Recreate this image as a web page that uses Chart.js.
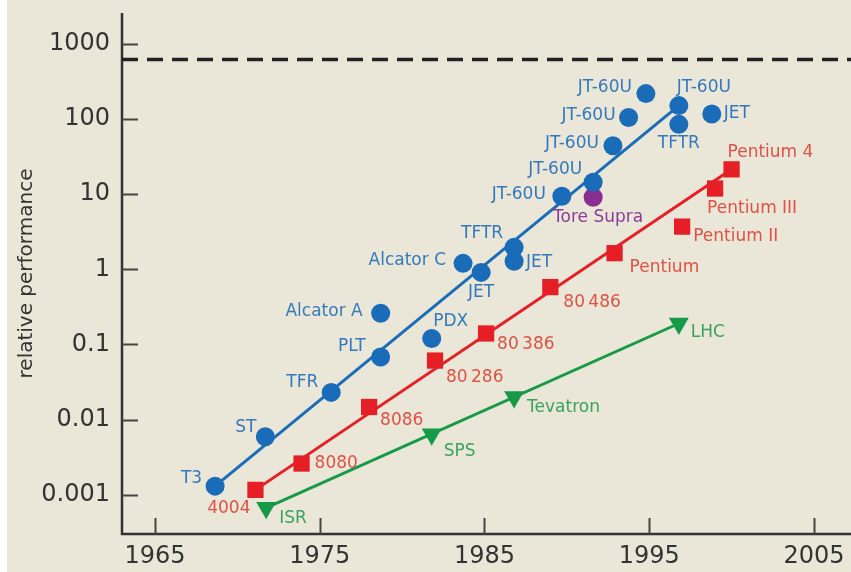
<!DOCTYPE html>
<html>
<head>
<meta charset="utf-8">
<script src="https://cdn.jsdelivr.net/npm/chart.js@4/dist/chart.umd.min.js"></script>
<style>
  html, body { margin: 0; padding: 0; background: #fff; }
  #wrap { width: 851px; height: 572px; }
</style>
</head>
<body>
<div id="wrap"><canvas id="perfChart" width="851" height="572"></canvas></div>
<script>
// tokamaks (fusion)
const tokamakNames = ['T3', 'ST', 'TFR', 'PLT', 'Alcator A', 'PDX', 'Alcator C', 'JET', 'TFTR', 'JET',
  'JT-60U', 'JT-60U', 'JT-60U', 'JT-60U', 'JT-60U', 'JT-60U', 'TFTR', 'JET'];
const tokamakYears = [1968.65, 1971.7, 1975.7, 1978.7, 1978.7, 1981.8, 1983.7, 1984.8, 1986.8, 1986.8,
  1989.7, 1991.6, 1992.8, 1993.75, 1994.8, 1996.8, 1996.8, 1998.8];
const tokamakValues = [0.0013, 0.0059, 0.023, 0.068, 0.26, 0.12, 1.2, 0.91, 1.96, 1.28,
  9.4, 14.4, 44, 105, 218, 151, 85, 117];
const tokamakTrend = [0, 15]; // fitted line runs between these points

const toreNames = ['Tore Supra'];
const toreYears = [1991.6];
const toreValues = [9.1];

// microprocessors
const chipNames = ['4004', '8080', '8086', '80\u2009286', '80\u2009386', '80\u2009486', 'Pentium', 'Pentium II', 'Pentium III', 'Pentium 4'];
const chipYears = [1971.1, 1973.9, 1978.0, 1982.0, 1985.1, 1989.0, 1992.9, 1997.0, 1999.0, 2000.0];
const chipValues = [0.00116, 0.0026, 0.0147, 0.061, 0.14, 0.58, 1.64, 3.7, 11.9, 21.4];
const chipTrend = [0, 9];

// accelerators
const accelNames = ['ISR', 'SPS', 'Tevatron', 'LHC'];
const accelYears = [1971.75, 1981.8, 1986.8, 1996.8];
const accelValues = [0.00067, 0.0064, 0.020, 0.19];
const accelTrend = [0, 3];

const limitValue = 620;
const yTicks = [0.001, 0.01, 0.1, 1, 10, 100, 1000];
const xTicks = [1965, 1975, 1985, 1995, 2005];
const xMin = 1963, xMax = 2007.25;
const yMin = Math.pow(10, -3.504), yMax = Math.pow(10, 3.4115);

// label placement: [dx, dy, align]
const tokamakLabelPos = [[-13, -8, 'right'], [-9, -9, 'right'], [-13, -10, 'right'], [-15, -10, 'right'],
  [-18, -2, 'right'], [19, -17, 'center'], [-17, -3, 'right'], [0, 20, 'center'], [-11, -14, 'right'],
  [12, 1, 'left'], [-16, -2, 'right'], [-11, -13, 'right'], [-14, -2, 'right'], [-13, -2, 'right'],
  [-14, -6, 'right'], [-2, -18, 'left'], [0, 19, 'center'], [12, 0, 'left']];
const toreLabelPos = [[5, 20, 'center']];
const chipLabelPos = [[-5, 19, 'right'], [13, 0, 'left'], [11, 14, 'left'], [11, 17, 'left'], [11, 11, 'left'],
  [13, 15, 'left'], [15, 14, 'left'], [11, 10, 'left'], [-8, 20, 'left'], [-4, -17, 'left']];
const accelLabelPos = [[13, 11, 'left'], [12, 17, 'left'], [13, 11, 'left'], [12, 9, 'left']];

const BLUE = '#1b6cb8', BLUE_TXT = '#3579bd';
const RED = '#e61f27', RED_TXT = '#df5145';
const GREEN = '#179a48', GREEN_TXT = '#39a35d';
const PURPLE = '#8a2d91', PURPLE_TXT = '#8c3c97';
const BG = '#eae7d8';
const AXIS = '#333333';

const pts = (xs, ys) => xs.map((x, i) => ({ x: x, y: ys[i] }));
const trend = (xs, ys, idx) => idx.map(i => ({ x: xs[i], y: ys[i] }));

const backgroundPlugin = {
  id: 'bg',
  beforeDraw(chart) {
    const ctx = chart.ctx;
    ctx.save();
    ctx.fillStyle = '#fff';
    ctx.fillRect(0, 0, chart.width, chart.height);
    ctx.fillStyle = BG;
    ctx.fillRect(7, 0, chart.width - 7, chart.height);
    ctx.restore();
  }
};

const axisPlugin = {
  id: 'axisMarks',
  beforeDatasetsDraw(chart) {
    const { ctx, chartArea: a, scales: { x, y } } = chart;
    ctx.save();
    ctx.strokeStyle = AXIS;
    ctx.lineWidth = 2.5;
    ctx.beginPath();
    ctx.moveTo(a.left, a.top);
    ctx.lineTo(a.left, a.bottom);
    ctx.lineTo(a.right, a.bottom);
    ctx.stroke();
    ctx.lineWidth = 2;
    ctx.strokeStyle = '#444';
    ctx.beginPath();
    y.ticks.forEach(t => {
      const py = Math.round(y.getPixelForValue(t.value)) + 0.5;
      ctx.moveTo(a.left, py);
      ctx.lineTo(a.left + 16, py);
    });
    x.ticks.forEach(t => {
      const px = Math.round(x.getPixelForValue(t.value)) + 0.5;
      ctx.moveTo(px, a.bottom);
      ctx.lineTo(px, a.bottom - 16);
    });
    ctx.stroke();
    ctx.restore();
  }
};

const labelPlugin = {
  id: 'pointLabels',
  afterDatasetsDraw(chart) {
    const ctx = chart.ctx;
    ctx.save();
    ctx.font = '17px "DejaVu Sans"';
    ctx.textBaseline = 'middle';
    chart.data.datasets.forEach((ds, di) => {
      if (!ds.names) return;
      const meta = chart.getDatasetMeta(di);
      ctx.fillStyle = ds.textColor;
      meta.data.forEach((el, i) => {
        const p = ds.labelPos[i];
        ctx.textAlign = p[2];
        ctx.fillText(ds.names[i], el.x + p[0], el.y + p[1]);
      });
    });
    ctx.restore();
  }
};

const noPad = s => { s.paddingTop = 0; s.paddingBottom = 0; s.paddingLeft = 0; s.paddingRight = 0; };

const ctx = document.getElementById('perfChart').getContext('2d');
new Chart(ctx, {
  type: 'scatter',
  data: {
    datasets: [
      { data: pts(tokamakYears, tokamakValues), names: tokamakNames, labelPos: tokamakLabelPos, textColor: BLUE_TXT,
        pointStyle: 'circle', pointRadius: 9.5, backgroundColor: BLUE, borderWidth: 0, order: 1 },
      { data: pts(toreYears, toreValues), names: toreNames, labelPos: toreLabelPos, textColor: PURPLE_TXT,
        pointStyle: 'circle', pointRadius: 9.5, backgroundColor: PURPLE, borderWidth: 0, order: 1 },
      { data: pts(chipYears, chipValues), names: chipNames, labelPos: chipLabelPos, textColor: RED_TXT,
        pointStyle: 'rect', pointRadius: 11.5, backgroundColor: RED, borderWidth: 0, order: 1 },
      { data: pts(accelYears, accelValues), names: accelNames, labelPos: accelLabelPos, textColor: GREEN_TXT,
        pointStyle: 'triangle', rotation: 180, pointRadius: 11.5, backgroundColor: GREEN, borderWidth: 0, order: 1 },
      { data: trend(tokamakYears, tokamakValues, tokamakTrend), showLine: true, pointRadius: 0,
        borderColor: BLUE, borderWidth: 3, order: 5 },
      { data: trend(chipYears, chipValues, chipTrend), showLine: true, pointRadius: 0,
        borderColor: RED, borderWidth: 3, order: 5 },
      { data: trend(accelYears, accelValues, accelTrend), showLine: true, pointRadius: 0,
        borderColor: GREEN, borderWidth: 3, order: 5 },
      { data: [{ x: xMin, y: limitValue }, { x: xMax, y: limitValue }], showLine: true, pointRadius: 0,
        borderColor: '#222', borderWidth: 3.5, borderDash: [16, 9], order: 6 }
    ]
  },
  options: {
    responsive: false,
    animation: false,
    layout: { autoPadding: false, padding: { top: 13, right: 0, bottom: 0, left: 0 } },
    plugins: { legend: { display: false }, tooltip: { enabled: false } },
    scales: {
      x: {
        type: 'linear', position: 'bottom', min: xMin, max: xMax,
        afterBuildTicks: s => { s.ticks = xTicks.map(v => ({ value: v })); },
        afterFit: s => { s.height = 38; noPad(s); },
        grid: { display: false, drawTicks: false },
        border: { display: false },
        ticks: { autoSkip: false, maxRotation: 0, padding: 8, color: '#333',
          font: { family: 'DejaVu Sans', size: 24 }, callback: v => String(v) }
      },
      y: {
        type: 'logarithmic', min: yMin, max: yMax,
        afterBuildTicks: s => { s.ticks = yTicks.map(v => ({ value: v })); },
        afterFit: s => { s.width = 122; noPad(s); },
        grid: { display: false, drawTicks: false },
        border: { display: false },
        ticks: { padding: 12, color: '#333', font: { family: 'DejaVu Sans', size: 24 }, callback: v => String(v) },
        title: { display: true, text: 'relative performance', color: '#333',
          font: { family: 'DejaVu Sans', size: 20 }, padding: { top: 15, bottom: 0 } }
      }
    }
  },
  plugins: [backgroundPlugin, axisPlugin, labelPlugin]
});
</script>
</body>
</html>
